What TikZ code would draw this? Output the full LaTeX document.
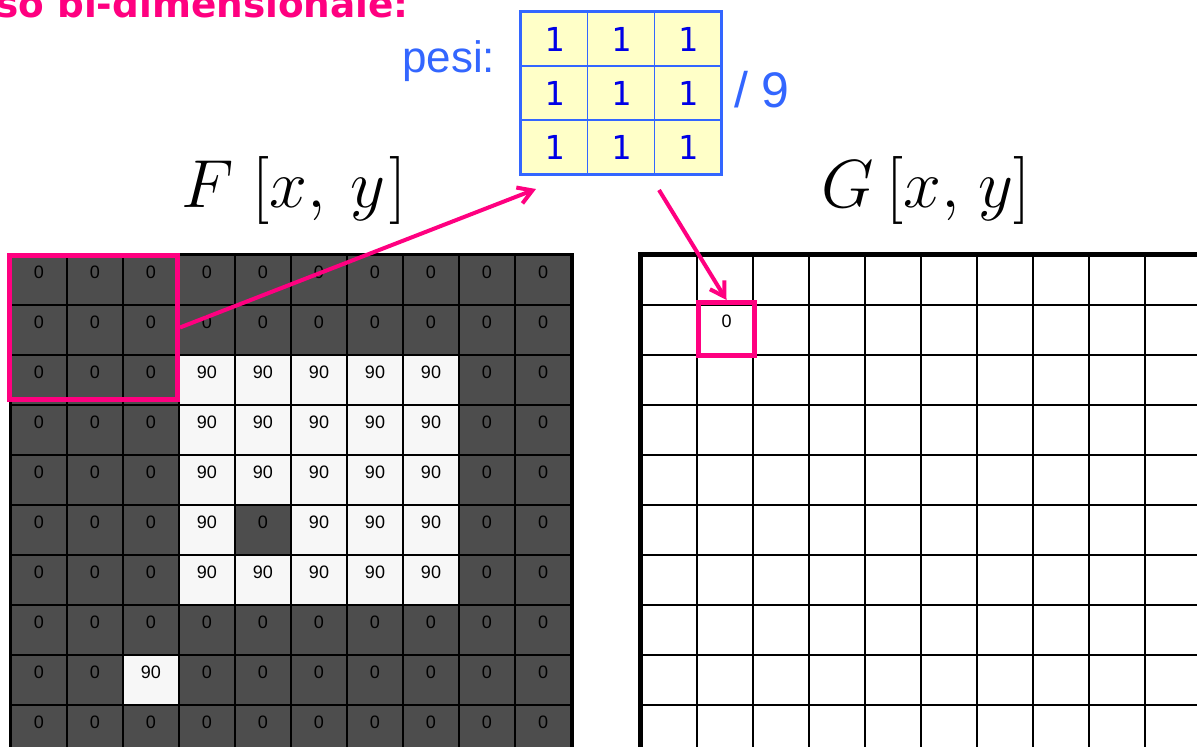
\RequirePackage{fix-cm}
\documentclass[tikz,border=0pt]{standalone}
\usepackage[no-math]{fontspec}
\setmainfont{Liberation Sans}
\newfontfamily\titolofont{DejaVu Sans}
\newfontfamily\pesofont{DejaVu Sans Mono}
\usetikzlibrary{arrows.meta}

\definecolor{rosa}{RGB}{255,0,128}
\definecolor{blupesi}{RGB}{51,102,255}
\definecolor{bluuno}{RGB}{0,0,230}
\definecolor{giallino}{RGB}{255,255,200}
\definecolor{scuro}{RGB}{77,77,77}
\definecolor{chiaro}{RGB}{247,247,247}

\begin{document}
\begin{tikzpicture}[x=1pt, y=-1pt,
    cella/.style={draw=black, line width=1.5pt, minimum width=56pt, minimum height=50pt,
        inner sep=0pt, text height=13pt, text depth=17pt, font=\fontsize{18}{18}\selectfont},
    tono/.code={\ifnum#1=0 \pgfkeysalso{fill=scuro}\else\pgfkeysalso{fill=chiaro}\fi},
    cellaG/.style={cella, line width=2pt, fill=white},
    peso/.style={draw=blupesi, line width=1.5pt, fill=giallino, minimum width=66.7pt,
        minimum height=54pt, inner sep=0pt, text=bluuno,
        font=\pesofont\fontsize{33}{33}\selectfont},
    riquadro/.style={draw=rosa, line width=5pt, inner sep=0pt},
    freccia/.style={rosa, line width=4pt, -{Straight Barb[length=14pt, width=17pt]}}]
    \useasboundingbox (0,0) rectangle (1197,747);
    \clip (0,0) rectangle (1197,747);

    % titolo
    \node[anchor=base east, inner sep=0pt, text=rosa,
        font=\titolofont\bfseries\fontsize{37.4}{40}\selectfont] (titolo) at (409,17)
        {Caso bi-dimensionale:};

    % pesi della maschera
    \node[anchor=base west, inner sep=0pt, text=blupesi, font=\fontsize{44}{48}\selectfont]
        (pesi) at (402,72) {pesi:};
    \foreach \r in {0,1,2}
        \foreach \c in {0,1,2}
            \node[peso] (k-\r-\c) at ({554.3+66.7*\c},{39+54*\r}) {1};
    \draw[blupesi, line width=3pt] (k-0-0.north west) rectangle (k-2-2.south east);
    \node[anchor=base west, inner sep=0pt, text=blupesi, font=\fontsize{50}{54}\selectfont]
        (nove) at (734,107) {/ 9};

    % nomi delle immagini
    \node[anchor=base, inner sep=0pt, font=\fontsize{68}{72}\selectfont] (nomeF) at (294,207)
        {$F\hspace{0.28em}[x,\hspace{0.2em}y\hspace{0.06em}]$};
    \node[anchor=base, inner sep=0pt, font=\fontsize{68}{72}\selectfont] (nomeG) at (926,207)
        {$G\hspace{0.18em}[x,\hspace{0.1em}y]$};

    % immagine F
    \foreach \riga [count=\r from 0] in {
        {0,0,0,0,0,0,0,0,0,0},
        {0,0,0,0,0,0,0,0,0,0},
        {0,0,0,90,90,90,90,90,0,0},
        {0,0,0,90,90,90,90,90,0,0},
        {0,0,0,90,90,90,90,90,0,0},
        {0,0,0,90,0,90,90,90,0,0},
        {0,0,0,90,90,90,90,90,0,0},
        {0,0,0,0,0,0,0,0,0,0},
        {0,0,90,0,0,0,0,0,0,0},
        {0,0,0,0,0,0,0,0,0,0}}{
        \foreach \v [count=\c from 0] in \riga
            \node[cella, tono=\v] (f-\r-\c) at ({39+56*\c},{280+50*\r}) {\v};
    }
    \draw[line width=3.5pt] (f-0-0.north west) rectangle (f-9-9.south east);

    % immagine G
    \foreach \r in {0,...,9}
        \foreach \c in {0,...,9}
            \node[cellaG] (g-\r-\c) at ({669+56*\c},{280+50*\r}) {};
    \draw[line width=5pt] (g-0-0.north west) rectangle (g-9-9.south east);

    % finestra e pixel di uscita
    \node[riquadro, minimum width=168pt, minimum height=144pt] (finestra) at (93.5,327.5) {};
    \node[riquadro, minimum width=56pt, minimum height=53pt, text height=13pt,
        text depth=17pt, font=\fontsize{18}{18}\selectfont] (uscita) at (726.5,329) {0};

    % frecce
    \coordinate (versoK) at (536,189);
    \coordinate (daK) at (659,190);
    \draw[freccia] (finestra.east) -- (versoK);
    \draw[freccia] (daK) -- (uscita.north);
\end{tikzpicture}
\end{document}
